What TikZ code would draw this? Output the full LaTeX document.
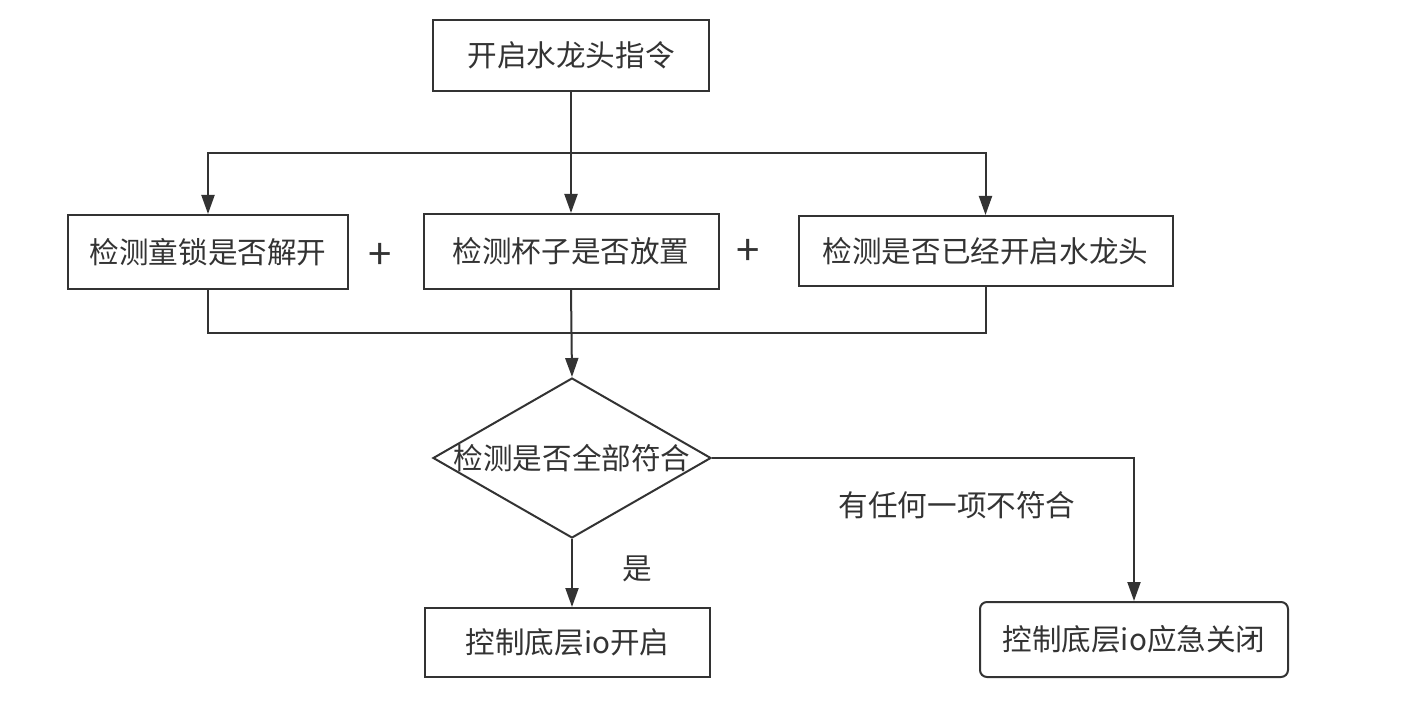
\documentclass[tikz,border=0pt]{standalone}
\usepackage{fontspec}
\setmainfont{Noto Sans CJK SC}
\usetikzlibrary{shapes.geometric,arrows.meta}
\definecolor{ink}{HTML}{333333}
\begin{document}
\begin{tikzpicture}[x=0.5pt,y=-0.5pt,
  every node/.style={font=\fontsize{14.8pt}{17pt}\selectfont, text=ink},
  box/.style={draw=ink, line width=1pt, rectangle, inner sep=0pt, fill=white},
  conn/.style={draw=ink, line width=1pt},
  arr/.style={conn, -{Triangle[length=9.5pt,width=6.5pt]}},
  plussign/.style={font=\fontsize{21pt}{22pt}\selectfont},
  ]
\useasboundingbox (0,0) rectangle (1408,721);
\fill[white] (0,0) rectangle (1408,721);
% boxes
\node[box, minimum width=138pt, minimum height=35.5pt] (top) at (571,55.5) {开启水龙头指令};
\node[box, minimum width=140pt, minimum height=37pt] (left) at (208,252) {检测童锁是否解开};
\node[box, minimum width=147.5pt, minimum height=37.5pt] (mid) at (571,251.5) {检测杯子是否放置};
\node[box, minimum width=187pt, minimum height=35pt] (right) at (985.5,251) {检测是否已经开启水龙头};
\node[plussign] (plus1) at (380,256) {+};
\node[plussign] (plus2) at (748,252) {+};
\node[diamond, draw=ink, line width=1pt, minimum width=139pt, minimum height=80pt, inner sep=0pt,
      label={[text=ink]center:检测是否全部符合}] (dia) at (572,458) {};
\node[box, minimum width=142.5pt, minimum height=34.5pt] (yes) at (567.5,642.5) {控制底层io开启};
\node[box, rounded corners=3.5pt, minimum width=154pt, minimum height=37.5pt] (no) at (1134,639.5) {控制底层io应急关闭};
\node (lyes) at (637,569) {是};
\node (lno) at (957,505) {有任何一项不符合};
% connectors
\coordinate (split) at (571,153);
\coordinate (merge) at (571,333);
\draw[arr] (top.south) -- (mid.north);
\draw[arr] (split) -| (left.north);
\draw[arr] (split) -| (right.north);
\draw[conn] (left.south) |- (merge);
\draw[conn] (right.south) |- (merge);
\draw[arr] (mid.south) -- (dia.north);
\draw[arr] (dia.south) -- (yes.north -| dia.south);
\draw[arr] (dia.east) -| (no.north);
\end{tikzpicture}
\end{document}
